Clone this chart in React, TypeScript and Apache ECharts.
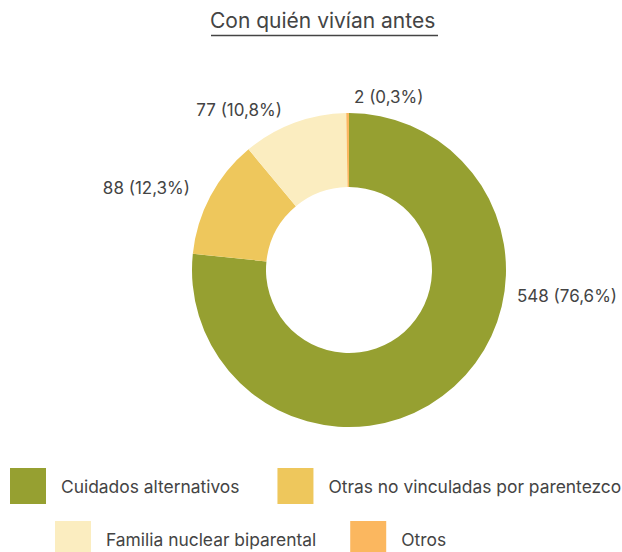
import React, { useEffect, useRef } from "react";
import * as echarts from "echarts";

const titleText = "Con quién vivían antes";
const categories = [
  "Cuidados alternativos",
  "Otras no vinculadas por parentezco",
  "Familia nuclear biparental",
  "Otros",
];
const values = [548, 88, 77, 2];
const colors = ["#96A031", "#EEC75C", "#FBEDC0", "#FBB75F"];

const labelPos: { x: number; y: number; align: "left" | "right" }[] = [
  { x: 517, y: 296, align: "left" },
  { x: 190, y: 188, align: "right" },
  { x: 282, y: 110, align: "right" },
  { x: 354, y: 97, align: "left" },
];

export default function App() {
  const ref = useRef<HTMLDivElement>(null);
  useEffect(() => {
    if (!ref.current) return;
    const chart = echarts.init(ref.current, undefined, { renderer: "svg" });
    const total = values.reduce((a, b) => a + b, 0);
    const font = "Inter, 'Noto Sans', sans-serif";
    chart.setOption({
      animation: false,
      title: {
        text: titleText,
        left: 210,
        top: 10,
        padding: 0,
        textStyle: { fontFamily: font, fontSize: 21, fontWeight: "normal", color: "#444444" },
      },
      graphic: [
        {
          type: "line",
          shape: { x1: 211, y1: 35.5, x2: 438, y2: 35.5 },
          style: { stroke: "#444444", lineWidth: 1.3 },
        },
      ],
      legend: [
        {
          data: categories.slice(0, 2),
          left: 10,
          top: 468,
          padding: 0,
          orient: "horizontal",
          itemWidth: 36,
          itemHeight: 36,
          itemGap: 38,
          icon: "rect",
          textStyle: { fontFamily: font, fontSize: 17.4, color: "#444444", padding: [0, 0, 0, 10] },
          selectedMode: false,
        },
        {
          data: categories.slice(2),
          left: 55,
          top: 521,
          padding: 0,
          orient: "horizontal",
          itemWidth: 36,
          itemHeight: 36,
          itemGap: 34,
          icon: "rect",
          textStyle: { fontFamily: font, fontSize: 17.4, color: "#444444", padding: [0, 0, 0, 10] },
          selectedMode: false,
        },
      ],
      series: [
        {
          type: "pie",
          center: [349, 270],
          radius: [83, 157],
          startAngle: 90,
          clockwise: true,
          avoidLabelOverlap: false,
          label: {
            show: true,
            position: "outside",
            fontFamily: font,
            fontSize: 17,
            color: "#444444",
            formatter: (p: any) =>
              `${p.value} (${((p.value / total) * 100).toFixed(1).replace(".", ",")}%)`,
          },
          labelLine: { show: false },
          labelLayout: (params: any) => {
            const pos = labelPos[params.dataIndex];
            return { x: pos.x, y: pos.y, align: pos.align, verticalAlign: "middle" };
          },
          emphasis: { disabled: true },
          data: categories.map((name, i) => ({
            name,
            value: values[i],
            itemStyle: { color: colors[i] },
          })),
        },
      ],
    });
    return () => chart.dispose();
  }, []);
  return (
    <div
      ref={ref}
      style={{ position: "absolute", left: 0, top: 0, width: 622, height: 552 }}
    />
  );
}
